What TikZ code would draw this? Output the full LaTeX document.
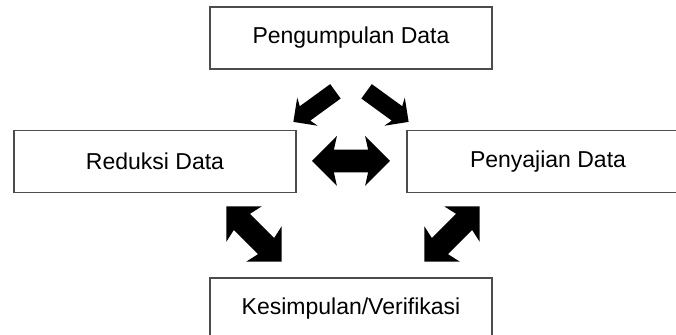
\documentclass[tikz,border=0pt]{standalone}
\usepackage{fontspec}
\setmainfont{Liberation Sans}
\usetikzlibrary{shapes.arrows, positioning}
\tikzset{
x=0.5pt, y=0.5pt, % one unit is one pixel of the sketch
node distance=10pt and 10pt, on grid,
box/.style={draw=black!70, line width=0.7pt, fill=white, minimum width=141pt, minimum height=31pt, inner sep=0pt, outer sep=0pt, font=\fontsize{11.5}{14}\selectfont},
onearrow/.style={single arrow, fill=black, inner xsep=0pt, inner ysep=4.25pt, minimum height=26pt, minimum width=17pt, single arrow head extend=4.25pt, single arrow head indent=1.5pt},
twoarrow/.style={double arrow, fill=black, inner xsep=0pt, inner ysep=5.5pt, minimum height=39pt, minimum width=24.5pt, double arrow head extend=6.75pt, double arrow head indent=1.5pt},
}
\begin{document}
\begin{tikzpicture}
\useasboundingbox (0,0) rectangle (676,335);
\clip (0,0) rectangle (676,335);

\node[box] (pengumpulan) at (351,297) {Pengumpulan Data};
\node[box, below left=61.75pt and 98pt of pengumpulan] (reduksi) {Reduksi Data};
\node[box, below right=61.75pt and 98.5pt of pengumpulan] (penyajian) {Penyajian Data};
\node[box, below=135.5pt of pengumpulan] (kesimpulan) {Kesimpulan/Verifikasi};

% arrows between the steps
\node[onearrow, rotate=216] (pr) at (318,231) {};
\node[onearrow, rotate=-36] (pp) at (384,231) {};
\node[twoarrow] (rp) at (351,174) {};
\node[twoarrow, rotate=-45] (rk) at (254,101) {};
\node[twoarrow, rotate=45] (pk) at (452,101) {};
\end{tikzpicture}
\end{document}
